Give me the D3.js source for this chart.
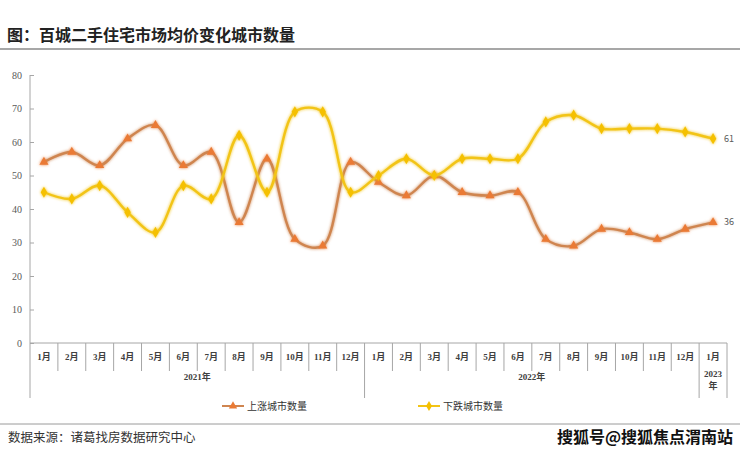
<!DOCTYPE html>
<html>
<head>
<meta charset="utf-8">
<script src="https://cdn.jsdelivr.net/npm/d3@7"></script>
<style>
  body { margin: 0; background: #fff; }
  svg { display: block; }
</style>
</head>
<body>
<script>
let width = 740;
let height = 451;

// data
let months = ["1月","2月","3月","4月","5月","6月","7月","8月","9月","10月","11月","12月",
              "1月","2月","3月","4月","5月","6月","7月","8月","9月","10月","11月","12月","1月"];
let years = [
  { label: "2021年", from: 0, to: 11 },
  { label: "2022年", from: 12, to: 23 },
  { label: "2023年", from: 24, to: 24 }
];
let upCities = [54,57,53,61,65,53,57,36,55,31,29,54,48,44,50,45,44,45,31,29,34,33,31,34,36];
let downCities = [45,43,47,39,33,47,43,62,45,69,69,45,50,55,50,55,55,55,66,68,64,64,64,63,61];
let yTicks = [0,10,20,30,40,50,60,70,80];

let serif = "'Liberation Serif','DejaVu Serif','Noto Sans CJK SC',serif";
let sans = "'Noto Sans CJK SC','Noto Sans',sans-serif";

let svg = d3.select("body").append("svg")
  .attr("width", width)
  .attr("height", height);

let defs = svg.append("defs");
let glow = defs.append("filter").attr("id", "glow")
  .attr("x", "-10%").attr("y", "-10%").attr("width", "120%").attr("height", "120%");
glow.append("feGaussianBlur").attr("in", "SourceGraphic").attr("stdDeviation", 1.6).attr("result", "b");
let merge = glow.append("feMerge");
merge.append("feMergeNode").attr("in", "b");
merge.append("feMergeNode").attr("in", "SourceGraphic");

// title
svg.append("text")
  .attr("x", 7).attr("y", 41)
  .style("font-family", sans).style("font-weight", "bold").style("font-size", "16px")
  .attr("fill", "#222")
  .text("图：百城二手住宅市场均价变化城市数量");
svg.append("line")
  .attr("x1", 0).attr("x2", width).attr("y1", 49).attr("y2", 49)
  .attr("stroke", "#8a8a8a").attr("stroke-width", 1.5);

let x = d3.scaleBand().domain(d3.range(months.length)).range([30, 727]);
let y = d3.scaleLinear().domain([0, 80]).range([343, 75]);

// y axis
let yAxis = svg.append("g")
  .attr("transform", "translate(30,0)")
  .call(d3.axisRight(y).tickValues(yTicks).tickSize(4).tickFormat(d3.format("d")));
yAxis.select(".domain").attr("stroke", "#a6a6a6").attr("d", "M0,75V343");
yAxis.selectAll(".tick line").attr("stroke", "#a6a6a6");
yAxis.selectAll(".tick text")
  .attr("x", -8).attr("text-anchor", "end")
  .style("font-family", serif).style("font-size", "10px").attr("fill", "#595959");

// x axis baseline and separators
let xg = svg.append("g");
xg.append("line")
  .attr("x1", 30).attr("x2", x.range()[1]).attr("y1", 343).attr("y2", 343)
  .attr("stroke", "#a6a6a6");

let yearEdges = new Set([0]);
years.forEach(yr => yearEdges.add(yr.to + 1));
d3.range(months.length + 1).forEach(i => {
  let px = i < months.length ? x(i) : x.range()[1];
  xg.append("line")
    .attr("x1", px).attr("x2", px)
    .attr("y1", 343).attr("y2", yearEdges.has(i) ? 398 : 371)
    .attr("stroke", "#a6a6a6");
});

xg.selectAll("text.month")
  .data(months)
  .join("text")
  .attr("class", "month")
  .attr("x", (d, i) => x(i) + x.bandwidth() / 2)
  .attr("y", 360)
  .attr("text-anchor", "middle")
  .style("font-family", serif).style("font-weight", "bold").style("font-size", "9px")
  .attr("fill", "#404040")
  .text(d => d);

years.forEach(yr => {
  let cx = (x(yr.from) + x(yr.to) + x.bandwidth()) / 2;
  let t = xg.append("text")
    .attr("x", cx).attr("y", 380)
    .attr("text-anchor", "middle")
    .style("font-family", serif).style("font-weight", "bold").style("font-size", "9px")
    .attr("fill", "#404040");
  if (yr.from === yr.to) {
    t.attr("y", 377);
    t.append("tspan").attr("x", cx).text(yr.label.slice(0, 4));
    t.append("tspan").attr("x", cx).attr("dy", 12).text(yr.label.slice(4));
  } else {
    t.text(yr.label);
  }
});

// lines
let line = d3.line()
  .x((d, i) => x(i) + x.bandwidth() / 2)
  .y(d => y(d))
  .curve(d3.curveCatmullRom.alpha(0.5));

let series = [
  { name: "上涨城市数量", values: upCities, stroke: "#cf8550", marker: "#ea7a34", shape: d3.symbolTriangle },
  { name: "下跌城市数量", values: downCities, stroke: "#f2c416", marker: "#f5c000", shape: d3.symbolDiamond }
];

series.forEach(s => {
  let g = svg.append("g").attr("filter", "url(#glow)");
  g.append("path")
    .datum(s.values)
    .attr("fill", "none")
    .attr("stroke", s.stroke)
    .attr("stroke-width", 2.4)
    .attr("d", line);
  g.selectAll("path.pt")
    .data(s.values)
    .join("path")
    .attr("class", "pt")
    .attr("transform", (d, i) => `translate(${x(i) + x.bandwidth() / 2},${y(d)})`)
    .attr("d", d3.symbol().type(s.shape).size(36))
    .attr("fill", s.marker);
  let last = s.values.length - 1;
  svg.append("text")
    .attr("x", x(last) + x.bandwidth() / 2 + 11)
    .attr("y", y(s.values[last]) + 3)
    .style("font-family", sans).style("font-size", "9px")
    .attr("fill", "#595959")
    .text(s.values[last]);
});

// legend
let legendX = [222, 418];
series.forEach((s, i) => {
  let g = svg.append("g").attr("transform", `translate(${legendX[i]},406)`);
  g.append("line").attr("x1", 0).attr("x2", 22).attr("stroke", s.stroke).attr("stroke-width", 2);
  g.append("path").attr("transform", "translate(11,0)")
    .attr("d", d3.symbol().type(s.shape).size(30)).attr("fill", s.marker);
  g.append("text").attr("x", 25).attr("y", 4)
    .style("font-family", sans).style("font-size", "10px").attr("fill", "#333")
    .text(s.name);
});

// footer
svg.append("line")
  .attr("x1", 0).attr("x2", width).attr("y1", 424).attr("y2", 424)
  .attr("stroke", "#9a9a9a").attr("stroke-width", 1);
svg.append("text")
  .attr("x", 8).attr("y", 442)
  .style("font-family", sans).style("font-size", "12.5px").attr("fill", "#333")
  .text("数据来源：诸葛找房数据研究中心");
svg.append("text")
  .attr("x", 733).attr("y", 443).attr("text-anchor", "end")
  .style("font-family", sans).style("font-weight", "bold").style("font-size", "16px").attr("fill", "#111")
  .text("搜狐号@搜狐焦点渭南站");
</script>
</body>
</html>
